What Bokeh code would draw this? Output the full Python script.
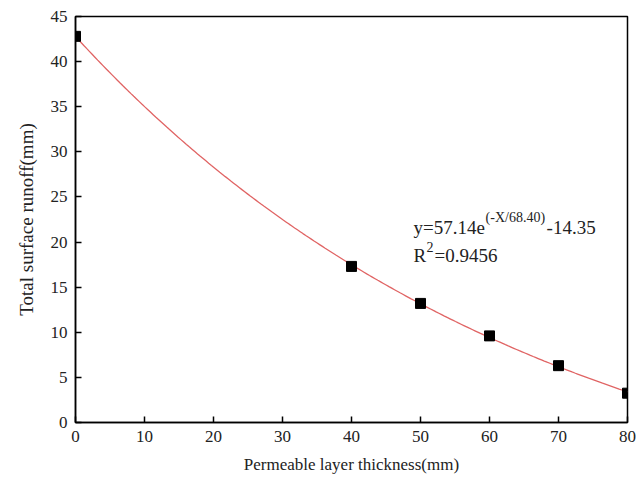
import numpy as np
from bokeh.plotting import figure
from bokeh.models import Label, FixedTicker, Range1d
from bokeh.embed import file_html
from bokeh.resources import INLINE

# measured data
thickness = [0, 40, 50, 60, 70, 80]
runoff = [42.8, 17.3, 13.2, 9.6, 6.3, 3.25]

# fit parameters shown on the chart: y = A*exp(-x/t) + y0
fit_A = 57.14
fit_t = 68.40
fit_y0 = -14.35
fit_r2 = 0.9456

x_ticks = [0, 10, 20, 30, 40, 50, 60, 70, 80]
y_ticks = [0, 5, 10, 15, 20, 25, 30, 35, 40, 45]

FONT = "Liberation Serif"

p = figure(width=640, height=478, output_backend="svg", toolbar_location=None,
           x_range=Range1d(0, 80), y_range=Range1d(0, 45),
           min_border_left=75, min_border_right=13, min_border_top=16, min_border_bottom=56)
p.background_fill_color = "white"
p.border_fill_color = "white"
p.outline_line_color = "black"
p.outline_line_width = 1.5
p.grid.visible = False

fx = np.linspace(0, 80, 200)
fy = fit_A * np.exp(-fx / fit_t) + fit_y0
p.line(fx, fy, line_color="#e06464", line_width=1.3)

p.scatter(thickness, runoff, marker="square", size=10, fill_color="black", line_color="black")

for ax in (p.xaxis[0], p.yaxis[0]):
    ax.axis_line_width = 1.5
    ax.axis_line_color = "black"
    ax.major_tick_in = 6
    ax.major_tick_out = 0
    ax.major_tick_line_width = 1.5
    ax.minor_tick_line_color = None
    ax.major_label_text_font = FONT
    ax.major_label_text_font_size = "17px"
    ax.major_label_text_color = "#222222"
    ax.axis_label_text_font = FONT
    ax.axis_label_text_font_style = "normal"
    ax.axis_label_text_color = "#222222"

p.xaxis.ticker = FixedTicker(ticks=x_ticks)
p.yaxis.ticker = FixedTicker(ticks=y_ticks)
p.xaxis.axis_label = "Permeable layer thickness(mm)"
p.yaxis.axis_label = "Total surface runoff(mm)"
p.xaxis.axis_label_text_font_size = "17px"
p.yaxis.axis_label_text_font_size = "19px"
p.xaxis.major_label_standoff = 8
p.yaxis.major_label_standoff = 8
p.xaxis.axis_label_standoff = 10
p.yaxis.axis_label_standoff = 11

ax0, ay1, ay2 = 49.0, 21.61, 18.51
def lab(text, x, y, size, xo=0, yo=0):
    p.add_layout(Label(x=x, y=y, text=text, x_offset=xo, y_offset=yo,
                       text_font=FONT, text_font_size=size, text_color="#222222",
                       text_baseline="alphabetic", text_align="left"))

lab("y=%.2fe" % fit_A, ax0, ay1, "19px")
lab("(-X/%.2f)" % fit_t, ax0, ay1, "14px", xo=72, yo=10)
lab("%.2f" % fit_y0, ax0, ay1, "19px", xo=133)
lab("R", ax0, ay2, "19px")
lab("2", ax0, ay2, "14px", xo=13, yo=8)
lab("=%.4f" % fit_r2, ax0, ay2, "19px", xo=21)

open("out.html", "w").write(file_html(p, INLINE))
